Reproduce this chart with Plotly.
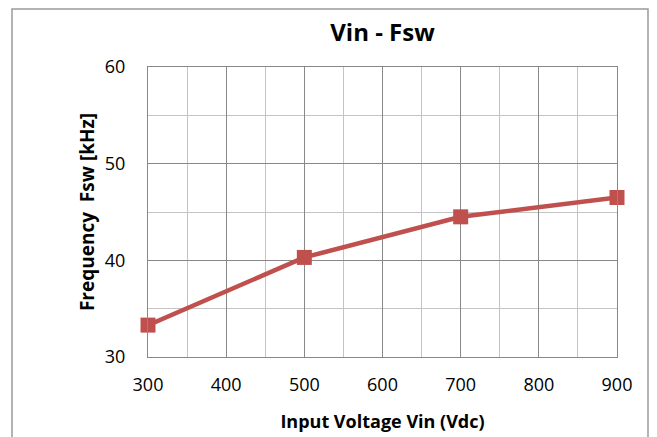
import plotly.graph_objects as go

vin = [300, 500, 700, 900]
fsw = [33.3, 40.3, 44.5, 46.5]
x_ticks = [300, 400, 500, 600, 700, 800, 900]
y_ticks = [30, 40, 50, 60]

W, H = 657, 437
L, R, T, B = 140, 48, 59, 88
pw, ph = W - L - R, H - T - B

fig = go.Figure()
fig.add_trace(go.Scatter(
    x=vin, y=fsw, mode="lines+markers",
    line=dict(color="#C0504D", width=4.5),
    marker=dict(symbol="square", size=15, color="#C0504D"),
    showlegend=False, cliponaxis=False,
))

font = "Open Sans"
fig.update_layout(
    width=W, height=H,
    margin=dict(l=L, r=R, t=T, b=B),
    paper_bgcolor="white", plot_bgcolor="white",
    title=dict(text="<b>Vin - Fsw</b>", x=(L + pw / 2) / W, xanchor="center",
               y=1 - 25 / H, yanchor="middle",
               font=dict(family=font, size=24, color="black")),
    xaxis=dict(range=[300, 900], tickvals=x_ticks, ticks="",
               showgrid=True, gridcolor="#888888", gridwidth=1.3,
               minor=dict(dtick=50, showgrid=True, gridcolor="#c4c4c4", gridwidth=1.3),
               showline=True, linecolor="#888888", linewidth=1.3, mirror=True,
               zeroline=False, tickfont=dict(family=font, size=18, color="black"),
               ticklabelstandoff=11, automargin=False,
               title=dict(text="<b>Input Voltage Vin (Vdc)</b>", standoff=20,
                          font=dict(family=font, size=18, color="black"))),
    yaxis=dict(range=[30, 60], tickvals=y_ticks, ticks="",
               showgrid=True, gridcolor="#888888", gridwidth=1.3,
               minor=dict(dtick=5, showgrid=True, gridcolor="#c4c4c4", gridwidth=1.3),
               showline=True, linecolor="#888888", linewidth=1.3, mirror=True,
               zeroline=False, tickfont=dict(family=font, size=18, color="black"),
               ticklabelstandoff=18, automargin=False,
               title=dict(text="<b>Frequency  Fsw [kHz]</b>", standoff=5,
                          font=dict(family=font, size=19, color="black"))),
)

fig.add_shape(type="rect", xref="paper", yref="paper",
              x0=(4 - L) / pw, x1=(640 - L) / pw,
              y0=(H - B - 445) / ph, y1=(H - B - 1) / ph,
              line=dict(color="#9a9a9a", width=1.5), fillcolor="rgba(0,0,0,0)",
              layer="below")

fig.write_html("out.html")
